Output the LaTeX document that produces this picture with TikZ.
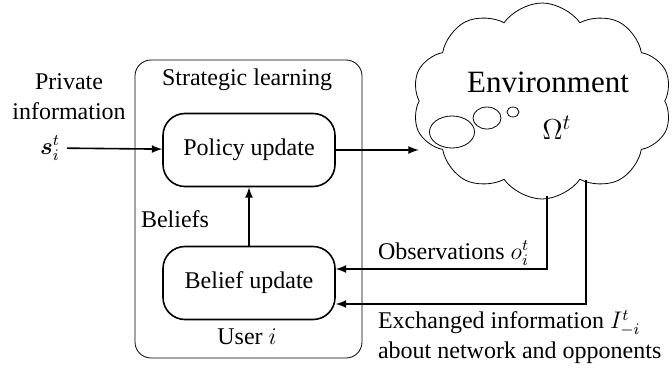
\documentclass[tikz,border=0pt]{standalone}
\usepackage{amsmath}
\usepackage{fontspec}
\setmainfont{Liberation Serif}
\usetikzlibrary{shapes, arrows, positioning}

\begin{document}
\begin{tikzpicture}[x=0.5pt, y=-0.5pt, font=\fontsize{12}{15}\selectfont,
	block/.style={draw, thick, rounded corners=11pt, minimum width=86pt, minimum height=36.5pt},
	flow/.style={->, >=latex, thick}]
		\useasboundingbox (0,0) rectangle (672,369);
		% user box
		\node (user) at (248.5,209) [draw, rounded corners=8pt, minimum width=113.5pt, minimum height=149pt] {};
		\node (learn) at (247,80) {Strategic learning};
		\node (policy) at (249,150) [block] {Policy update};
		\node (belief) at (249,283) [block] {Belief update};
		\node (beliefs) at (175,219) {Beliefs};
		\node (usr) at (247,337) {User $i$};
		% input
		\node (private) at (69,97) [align=center] {Private\\information};
		\node (sit) at (50,148) {\large$\boldsymbol{s}_i^t$};
		% environment
		\node (env) at (542,101) [draw, cloud, cloud puffs=10, cloud puff arc=110, aspect=1.4, minimum width=130pt, minimum height=98pt] {};
		\node (envtext) at (548,82) [font=\fontsize{15.5}{18}\selectfont] {Environment};
		\node (omega) at (557,128) [font=\fontsize{15.5}{18}\selectfont] {$\Omega^t$};
		\node (bub1) at (452,132) [draw, ellipse, inner sep=0pt, minimum width=22.5pt, minimum height=16pt] {};
		\node (bub2) at (487,118) [draw, ellipse, inner sep=0pt, minimum width=14pt, minimum height=11pt] {};
		\node (bub3) at (513,112) [draw, ellipse, inner sep=0pt, minimum width=6pt, minimum height=5pt] {};
		\coordinate (obs) at (547,196);
		\coordinate (exch) at (586,180);
		% labels
		\node (obslabel) at (371,253) [anchor=west] {Observations $o_i^t$};
		\node (exchlabel) at (371,337) [anchor=west, align=left] {Exchanged information $I_{-i}^t$\\about network and opponents};

		\draw[flow] (sit) -- (policy);
		\draw[flow] (belief) -- (policy);
		\draw[flow] (policy) -- (env.west |- policy);
		\draw[flow] (obs) |- ([yshift=7pt]belief.east);
		\draw[flow] (exch) |- ([yshift=-10.5pt]belief.east);
		\end{tikzpicture}
\end{document}
